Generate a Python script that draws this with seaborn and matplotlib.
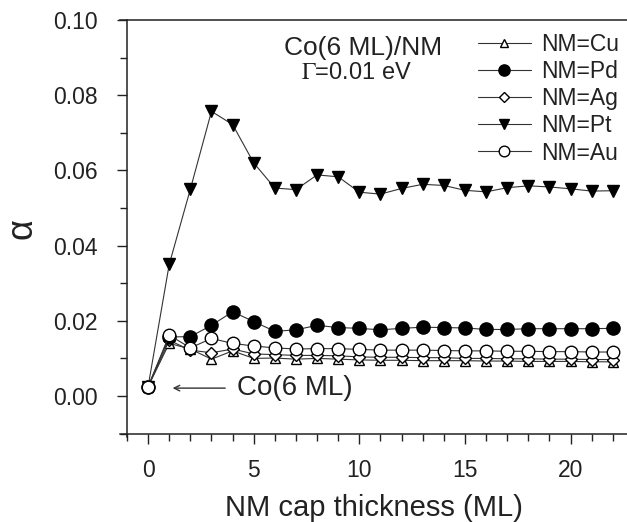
import numpy as np
import pandas as pd
import matplotlib
matplotlib.use("Agg")
import matplotlib.pyplot as plt
from matplotlib.ticker import MultipleLocator
import seaborn as sns

thickness = list(range(0, 23))
alpha_cu = [0.0025, 0.0140, 0.0125, 0.0098, 0.0120, 0.0100, 0.0101, 0.0098, 0.0100, 0.0098, 0.0096, 0.0095,
            0.0095, 0.0094, 0.0094, 0.0094, 0.0093, 0.0093, 0.0092, 0.0092, 0.0092, 0.0091, 0.0091]
alpha_pd = [0.0025, 0.0157, 0.0158, 0.0188, 0.0224, 0.0198, 0.0172, 0.0176, 0.0188, 0.0182, 0.0180, 0.0176,
            0.0180, 0.0183, 0.0182, 0.0181, 0.0177, 0.0177, 0.0179, 0.0179, 0.0179, 0.0179, 0.0180]
alpha_ag = [0.0025, 0.0148, 0.0122, 0.0115, 0.0125, 0.0112, 0.0110, 0.0108, 0.0108, 0.0107, 0.0104, 0.0103,
            0.0103, 0.0102, 0.0102, 0.0100, 0.0100, 0.0099, 0.0099, 0.0098, 0.0098, 0.0097, 0.0097]
alpha_pt = [0.0025, 0.0350, 0.0550, 0.0757, 0.0722, 0.0620, 0.0553, 0.0549, 0.0588, 0.0583, 0.0542, 0.0537,
            0.0552, 0.0563, 0.0560, 0.0547, 0.0543, 0.0554, 0.0559, 0.0556, 0.0551, 0.0545, 0.0546]
alpha_au = [0.0025, 0.0162, 0.0128, 0.0153, 0.0140, 0.0133, 0.0128, 0.0125, 0.0126, 0.0126, 0.0124, 0.0122,
            0.0122, 0.0122, 0.0121, 0.0120, 0.0120, 0.0119, 0.0119, 0.0118, 0.0118, 0.0117, 0.0117]
labels = ["NM=Cu", "NM=Pd", "NM=Ag", "NM=Pt", "NM=Au"]

sns.set_style("ticks")
plt.rcParams['font.family'] = ['Liberation Sans', 'DejaVu Sans']
plt.rcParams['mathtext.fontset'] = 'stix'

fig = plt.figure(figsize=(6.27, 5.22), dpi=100)
ax = fig.add_axes([120 / 627, 85 / 522, 507 / 627, 417 / 522])

series = [alpha_cu, alpha_pd, alpha_ag, alpha_pt, alpha_au]
styles = [
    dict(marker='^', markersize=7, markerfacecolor='white'),
    dict(marker='o', markersize=9.5, markerfacecolor='black'),
    dict(marker='D', markersize=6, markerfacecolor='white'),
    dict(marker='v', markersize=9, markerfacecolor='black'),
    dict(marker='o', markersize=9, markerfacecolor='white'),
]
zorders = [3, 4, 3.5, 5, 6]
for vals, lab, st, z in zip(series, labels, styles, zorders):
    df = pd.DataFrame({"x": thickness, "y": vals})
    sns.lineplot(data=df, x="x", y="y", ax=ax, color='#333333', linewidth=0.8,
                 markeredgecolor='black', markeredgewidth=1.0, label=lab, zorder=z, **st)

ax.set_xlim(-1.33, 22.67)
ax.set_ylim(-0.0109, 0.10)
ax.spines['left'].set_position(('data', -1.0))
ax.spines['bottom'].set_position(('data', -0.01))
ax.spines['right'].set_visible(False)
for s in ['left', 'bottom', 'top']:
    ax.spines[s].set_linewidth(1.1)
    ax.spines[s].set_color('#222222')

ax.xaxis.set_major_locator(MultipleLocator(5))
ax.xaxis.set_minor_locator(MultipleLocator(1))
ax.yaxis.set_minor_locator(MultipleLocator(0.01))
ax.set_yticks([0.0, 0.02, 0.04, 0.06, 0.08, 0.10])
ax.set_yticklabels(["0.00", "0.02", "0.04", "0.06", "0.08", "0.10"])
ax.tick_params(axis='both', which='major', direction='out', length=7, width=1.0, labelsize=16.5, colors='#222222')
ax.tick_params(axis='both', which='minor', direction='out', length=5, width=1.0, colors='#222222')
ax.tick_params(axis='x', which='major', pad=11)
ax.tick_params(axis='y', which='major', pad=14)

ax.set_xlabel("NM cap thickness (ML)", fontsize=21, color='#222222', labelpad=9)
ax.set_ylabel("α", fontsize=26, color='#222222', labelpad=10)

ax.text(10.17, 0.0926, "Co(6 ML)/NM", fontsize=19, ha='center', va='center', color='#222222')
ax.text(9.88, 0.0859, r"$\Gamma$=0.01 eV", fontsize=17, ha='center', va='center', color='#222222')

ax.annotate("", xy=(1.03, 0.0021), xytext=(3.78, 0.0021),
            arrowprops=dict(arrowstyle='->', lw=1.0, color='#333333'))
ax.text(4.2, 0.0021, "Co(6 ML)", fontsize=20, ha='left', va='center', color='#222222')

leg = ax.legend(loc='upper left', bbox_to_anchor=(478 / 627, 1 - 33 / 522), bbox_transform=fig.transFigure,
                frameon=False, fontsize=16.5, handlelength=2.3, handletextpad=0.45, labelspacing=0.18,
                borderpad=0, borderaxespad=0, markerscale=0.85)
for t in leg.get_texts():
    t.set_color('#222222')

fig.savefig("out.png", dpi=100)
